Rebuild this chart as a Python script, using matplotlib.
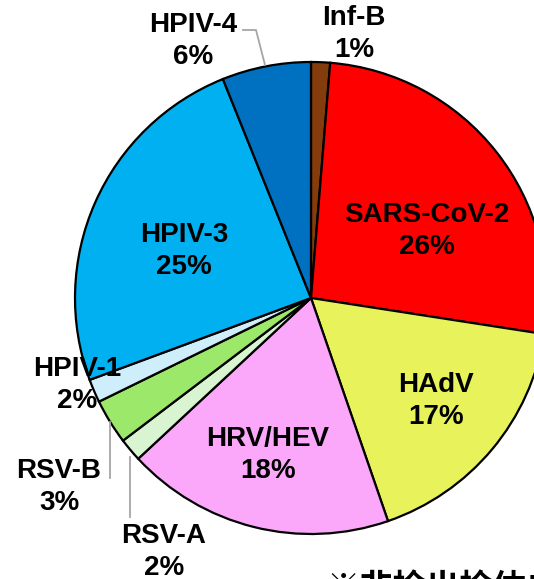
import matplotlib.pyplot as plt

plt.rcParams['font.family'] = ['Liberation Sans', 'Noto Sans CJK SC', 'DejaVu Sans']

# Slice data (clockwise from 12 o'clock)
pathogens = ['Inf-B', 'SARS-CoV-2', 'HAdV', 'HRV/HEV', 'RSV-A', 'RSV-B', 'HPIV-1', 'HPIV-3', 'HPIV-4']
shares = [1.3, 26.2, 17.3, 18.4, 1.6, 3.1, 1.6, 24.6, 6.1]
colors = ['#843C0C', '#FF0000', '#E8F25A', '#FBA8FB', '#D8F4D0',
          '#9CE86A', '#CDEEFA', '#00B0F0', '#0070C0']

W, H = 534, 579
fig = plt.figure(figsize=(W / 100, H / 100), dpi=100)
ax = fig.add_axes([0, 0, 1, 1])

cx, cy, r = 311, H - 298, 236
ax.pie(shares, colors=colors, startangle=90, counterclock=False,
       center=(cx, cy), radius=r, frame=True,
       wedgeprops=dict(edgecolor='black', linewidth=1.6))
ax.set_xlim(0, W)
ax.set_ylim(0, H)
ax.set_aspect('equal')
ax.axis('off')

# label positions in pixels from top-left: (x centre, centre of first line)
label_pos = {
    'Inf-B': (354, 15), 'SARS-CoV-2': (427, 212), 'HAdV': (436, 382),
    'HRV/HEV': (268, 436), 'RSV-A': (164, 533), 'RSV-B': (59, 468),
    'HPIV-1': (77, 366), 'HPIV-3': (184, 232), 'HPIV-4': (193, 22),
}
gap = 32
for name, val in zip(pathogens, shares):
    x, y = label_pos[name]
    for i, s in enumerate([name, f'{val:.0f}%']):
        ax.text(x, H - (y + i * gap + 10), s, ha='center', va='baseline',
                fontsize=20, fontweight='bold')

# leader lines
lead = dict(color='#A6A6A6', linewidth=1.3)
ax.plot([243, 256, 265], [H - 30, H - 30, H - 65], **lead)
ax.plot([110, 110], [H - 422, H - 478], **lead)
ax.plot([130, 130], [H - 457, H - 517], **lead)

fig.text(326 / W, 1 - 598 / H, '※非检出检体未计入', ha='left', va='baseline',
         fontsize=24, fontweight='bold',
         family=['Noto Sans CJK SC', 'DejaVu Sans'])

fig.savefig('out.png', dpi=100)
